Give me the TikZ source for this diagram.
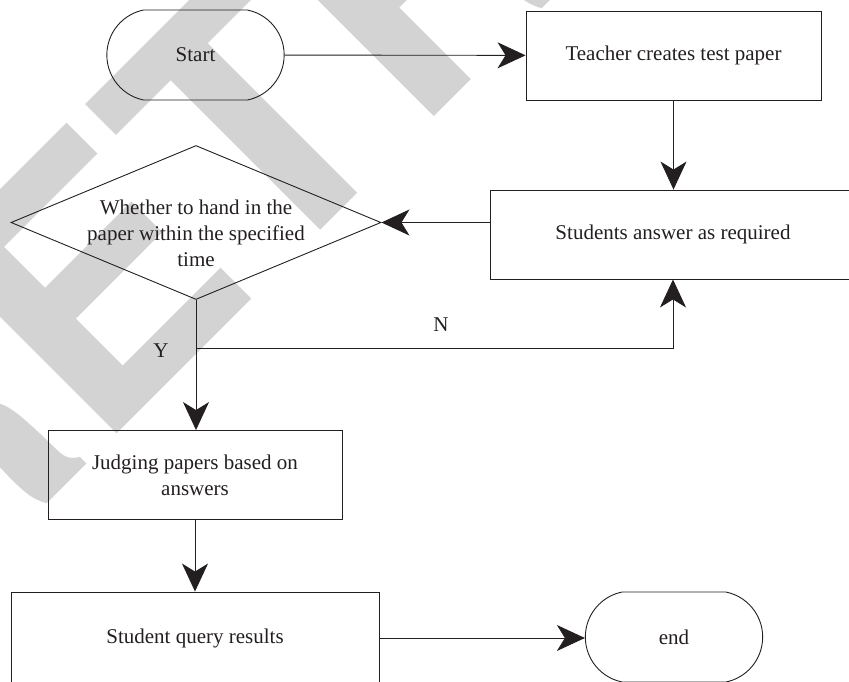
\documentclass[tikz,border=0pt]{standalone}
\usepackage{fontspec}
\setmainfont{Liberation Serif}
\newfontfamily\wmfont{TeX Gyre Heros}
\usepackage{tikz}
\usetikzlibrary{arrows.meta, shapes.geometric, shapes.misc}
\definecolor{wmgray}{RGB}{211,211,211}
\definecolor{ink}{RGB}{35,31,32}
\tikzset{%
	every box/.style={
		draw=ink,
		line width=0.9pt,
		align=center,
		text=ink,
		font=\fontsize{21}{26}\selectfont
	},
	process/.style={
		every box,
		rectangle,
		minimum height=89pt
	},
	terminal/.style={
		every box,
		rounded rectangle,
		rounded rectangle arc length=157,
		minimum width=184pt,
		minimum height=90pt
	},
	decision/.style={
		every box,
		diamond,
		aspect=2.4,
		minimum width=370pt,
		minimum height=154pt,
		inner sep=0pt
	},
	flow/.style={draw=ink, line width=0.9pt, -{Stealth[length=28pt, width=26pt, inset=8pt]}},
	tag/.style={text=ink, font=\fontsize{21}{26}\selectfont}
}

\begin{document}
\begin{tikzpicture}[x=1pt, y=-1pt]
	\useasboundingbox (0,0) rectangle (849,681);
	
	% watermark
	\node[anchor=base west, rotate=45, text=wmgray, inner sep=0pt,
		font=\wmfont\bfseries\fontsize{350}{350}\selectfont] (mark) at (-81,632) {RETRACTED};
	
	% Nodes of the chart
	\node[terminal] (start) at (195.5,55) {Start};
	\node[process, minimum width=295pt] (teacher) at (673.5,55.5) {Teacher creates test paper};
	\node[process, minimum width=366pt] (answer) at (673,234.5) {Students answer as required};
	\node[decision] (decide) at (196,222.5) {};
	\node[tag, align=center] (decidetext) at (196,233.5)
		{Whether to hand in the\\paper within the specified\\time};
	\node[process, minimum width=294pt] (judge) at (195,475) {Judging papers based on\\answers};
	\node[process, minimum width=368pt, minimum height=92pt] (query) at (195,638) {Student query results};
	\node[terminal] (finish) at (674,637) {end};
	\coordinate (split) at (196,348);
	
	% Connectors
	\draw[flow] (start) -- (teacher);
	\draw[flow] (teacher.south) -- (teacher.south |- answer.north);
	\draw[flow] (answer.west |- decide) -- (decide.east);
	\draw[flow] (decide.south) -- (decide.south |- judge.north);
	\draw[flow] (split) -| (answer.south);
	\draw[flow] (judge.south) -- (judge.south |- query.north);
	\draw[flow] (query.east) -- (query.east -| finish.west);
	
	\node[tag] (no) at (441,325) {N};
	\node[tag] (yes) at (161,351) {Y};
\end{tikzpicture}
\end{document}
